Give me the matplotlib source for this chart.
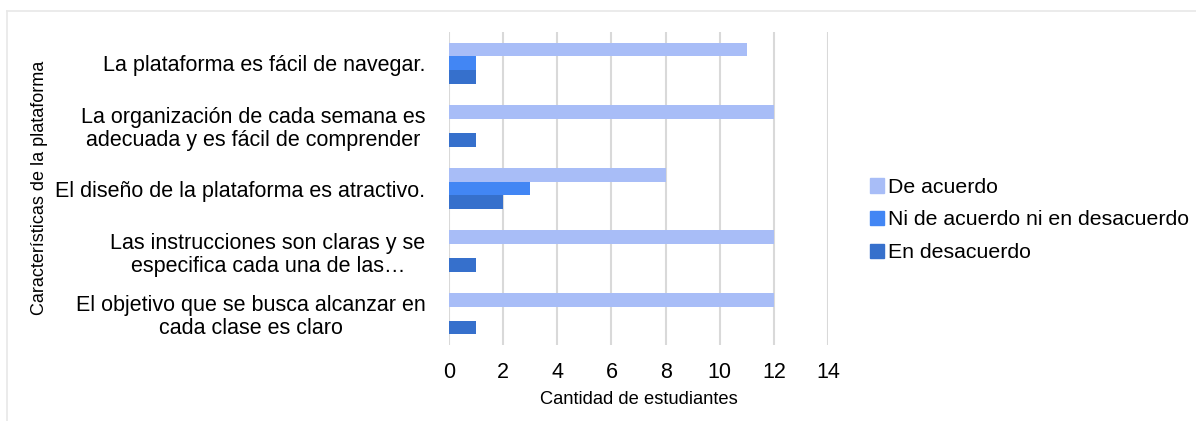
import matplotlib.pyplot as plt
import numpy as np
from matplotlib.lines import Line2D
from matplotlib.patches import Patch

plt.rcParams['font.family'] = ['Liberation Sans', 'DejaVu Sans']

categorias = [
    "La plataforma es fácil de navegar.",
    "La organización de cada semana es\nadecuada y es fácil de comprender",
    "El diseño de la plataforma es atractivo.",
    "Las instrucciones son claras y se\nespecifica cada una de las…",
    "El objetivo que se busca alcanzar en\ncada clase es claro",
]
series = ["De acuerdo", "Ni de acuerdo ni en desacuerdo", "En desacuerdo"]
de_acuerdo = [11, 12, 8, 12, 12]
ni_ni = [1, 0, 3, 0, 0]
desacuerdo = [1, 1, 2, 1, 1]
colores = ["#a8bdf7", "#4286f4", "#3670cc"]

fig = plt.figure(figsize=(11.96, 4.21), dpi=100)
ax = fig.add_axes([449/1196, 1-345/421, 379/1196, 313/421])

y = np.arange(len(categorias))
h = 0.22
for i, (vals, c) in enumerate(zip([de_acuerdo, ni_ni, desacuerdo], colores)):
    ax.barh(y - h + i*h, vals, height=h, color=c, zorder=3, label=series[i])

ax.set_ylim(len(categorias) - 0.5, -0.5)
ax.set_xlim(0, 14)
ax.set_xticks(range(0, 15, 2))
ax.set_yticks(y)
ax.set_yticklabels(categorias, fontsize=15.5, multialignment='center', linespacing=1.12)
ax.tick_params(axis='both', length=0)
ax.tick_params(axis='y', pad=17)
ax.tick_params(axis='x', labelsize=15.5, pad=12)
ax.grid(axis='x', color='#d9d9d9', linewidth=1.5, zorder=0)
for s in ax.spines.values():
    s.set_visible(False)
ax.set_xlabel("Cantidad de estudiantes", fontsize=13.2, labelpad=6)
fig.text(40/1196, 1-188/421, "Características de la plataforma", rotation=90,
         fontsize=13, ha='center', va='center')

handles = [Patch(color=c) for c in colores]
fig.legend(handles, series, loc='center left', bbox_to_anchor=(851/1196, 1-220/421),
           frameon=False, fontsize=15.3, handlelength=0.65, handleheight=0.65,
           handletextpad=0.2, labelspacing=0.64)

fig.add_artist(Line2D([7/1196, 7/1196], [0, 1-11/421], transform=fig.transFigure,
                      color='#e8e8e8', linewidth=1.2))
fig.add_artist(Line2D([7/1196, 1], [1-11/421, 1-11/421], transform=fig.transFigure,
                      color='#e8e8e8', linewidth=1.2))

fig.savefig("out.png", dpi=100)
